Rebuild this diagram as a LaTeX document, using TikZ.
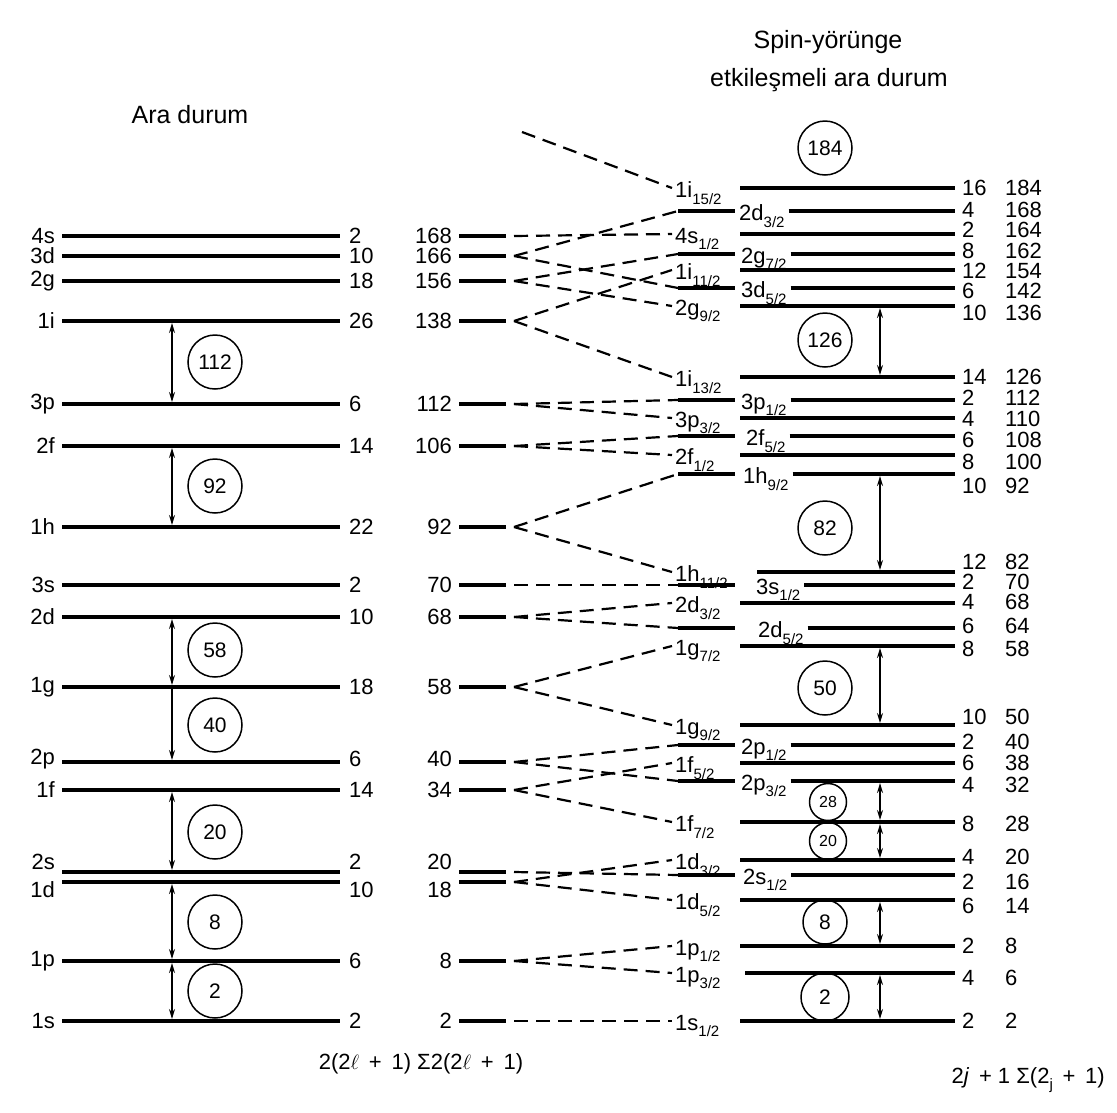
\documentclass[tikz,border=0pt]{standalone}
\usepackage{fontspec}
\setmainfont{Liberation Sans}
\usetikzlibrary{arrows.meta}
\newcommand\lsub[1]{\raisebox{-0.3em}{\fontsize{15}{15}\selectfont #1}}
% A-type level: key, y, label, n1, n2, number-y, line start x
\newcommand\lvA[7]{%
  \node[lab, anchor=west] (#1) at (674,#2+5) {#3};
  \coordinate (#1w) at (672,#2);
  \coordinate (#1s) at (#7,#2);
  \coordinate (#1e) at (955,#2);
  \draw[lvl] (#1s) -- (#1e);
  \node[num, anchor=west] (#1n) at (962,#6) {#4};
  \node[num, anchor=west] (#1c) at (1005,#6) {#5};
}
% B-type level (split line): key, y, label, n1, n2, number-y, label x
\newcommand\lvB[7]{%
  \coordinate (#1w) at (678,#2);
  \coordinate (#1s) at (#1w);
  \coordinate (#1m) at (735,#2);
  \draw[lvl] (#1w) -- (#1m);
  \node[lab, anchor=west] (#1) at (#7,#2+5) {#3};
  \coordinate (#1r) at (#1.east |- #1m);
  \coordinate (#1e) at (955,#2);
  \draw[lvl] ([xshift=3pt]#1r) -- (#1e);
  \node[num, anchor=west] (#1n) at (962,#6) {#4};
  \node[num, anchor=west] (#1c) at (1005,#6) {#5};
}
\begin{document}
\begin{tikzpicture}[x=1pt,y=-1pt,
  lvl/.style={line width=3.2pt},
  dsh/.style={line width=2.2pt, dash pattern=on 14pt off 8pt},
  lab/.style={font=\fontsize{22}{24}\selectfont, inner sep=1pt},
  num/.style={font=\fontsize{22}{24}\selectfont, inner sep=0pt},
  ttl/.style={font=\fontsize{25}{28}\selectfont, inner sep=1pt},
  mag/.style={circle, draw, line width=1.5pt, minimum size=54pt, inner sep=0pt, font=\fontsize{21}{23}\selectfont},
  smag/.style={mag, minimum size=37pt, font=\fontsize{16}{17}\selectfont},
  darr/.style={line width=1.4pt, shorten <=2pt, shorten >=2pt, {Stealth[length=10pt,width=6pt]}-{Stealth[length=10pt,width=6pt]}},
  sarr/.style={line width=1.4pt, shorten <=2pt, shorten >=2pt, -{Stealth[length=10pt,width=6pt]}},
]
\fill[white] (0,0) rectangle (1117,1112);
\useasboundingbox (0,0) rectangle (1117,1112);

% titles
\node[ttl] (t1) at (828,42) {Spin-yörünge};
\node[ttl] (t2) at (829,80) {etkileşmeli ara durum};
\node[ttl] (t3) at (190,115) {Ara durum};

% left column
\foreach \nm/\y/\ly/\n [count=\i] in {4s/236/236/2, 3d/256/256/10, 2g/281/281/18, 1i/321/321/26,
  3p/404/404/6, 2f/446/446/14, 1h/527/527/22, 3s/585/585/2, 2d/617/617/10, 1g/687/687/18,
  2p/762/759/6, 1f/790/790/14, 2s/872/862/2, 1d/882/890/10, 1p/961/961/6, 1s/1021/1021/2} {
  \node[lab, anchor=east] (L\i) at (56,\ly) {\nm};
  \coordinate (L\i-w) at (62,\y);
  \coordinate (L\i-e) at (340,\y);
  \draw[lvl] (L\i-w) -- (L\i-e);
  \node[lab, anchor=west] (LN\i) at (348,\ly) {\n};
}

% middle column
\foreach \n/\y/\ly [count=\i] in {168/236/236, 166/256/256, 156/281/281, 138/321/321,
  112/404/404, 106/446/446, 92/527/527, 70/585/585, 68/617/617, 58/687/687,
  40/762/759, 34/790/790, 20/872/862, 18/882/890, 8/961/961, 2/1021/1021} {
  \node[lab, anchor=east] (M\i) at (453,\ly) {\n};
  \coordinate (M\i-a) at (459,\y);
  \coordinate (M\i-b) at (506,\y);
  \coordinate (M\i-v) at (514,\y);
  \draw[lvl] (M\i-a) -- (M\i-b);
}

% right column
\lvA{R1}{188}{1i\lsub{15/2}}{16}{184}{188}{740}
\lvB{R2}{211}{2d\lsub{3/2}}{4}{168}{210}{738}
\lvA{R3}{234}{4s\lsub{1/2}}{2}{164}{230}{740}
\lvB{R4}{254}{2g\lsub{7/2}}{8}{162}{251}{740}
\lvA{R5}{270}{1i\lsub{11/2}}{12}{154}{271}{740}
\lvB{R6}{288}{3d\lsub{5/2}}{6}{142}{291}{740}
\lvA{R7}{306}{2g\lsub{9/2}}{10}{136}{313}{740}
\lvA{R8}{377}{1i\lsub{13/2}}{14}{126}{377}{740}
\lvB{R9}{400}{3p\lsub{1/2}}{2}{112}{398}{740}
\lvA{R10}{418}{3p\lsub{3/2}}{4}{110}{419}{740}
\lvB{R11}{436}{2f\lsub{5/2}}{6}{108}{440}{745}
\lvA{R12}{455}{2f\lsub{1/2}}{8}{100}{462}{740}
\lvB{R13}{474}{1h\lsub{9/2}}{10}{92}{486}{742}
\lvA{R14}{572}{1h\lsub{11/2}}{12}{82}{562}{757}
\lvB{R15}{585}{3s\lsub{1/2}}{2}{70}{582}{755}
\lvA{R16}{603}{2d\lsub{3/2}}{4}{68}{602}{740}
\lvB{R17}{628}{2d\lsub{5/2}}{6}{64}{626}{757}
\lvA{R18}{646}{1g\lsub{7/2}}{8}{58}{649}{740}
\lvA{R19}{725}{1g\lsub{9/2}}{10}{50}{717}{740}
\lvB{R20}{745}{2p\lsub{1/2}}{2}{40}{742}{740}
\lvA{R21}{763}{1f\lsub{5/2}}{6}{38}{763}{740}
\lvB{R22}{781}{2p\lsub{3/2}}{4}{32}{785}{740}
\lvA{R23}{822}{1f\lsub{7/2}}{8}{28}{824}{740}
\lvA{R24}{860}{1d\lsub{3/2}}{4}{20}{857}{740}
\lvB{R25}{875}{2s\lsub{1/2}}{2}{16}{882}{742}
\lvA{R26}{900}{1d\lsub{5/2}}{6}{14}{906}{740}
\lvA{R27}{946}{1p\lsub{1/2}}{2}{8}{946}{740}
\lvA{R28}{973}{1p\lsub{3/2}}{4}{6}{978}{745}
\lvA{R29}{1021}{1s\lsub{1/2}}{2}{2}{1021}{740}

% dashed connectors
\coordinate (top) at (522,132);
\draw[dsh] (top) -- (R1w);
\foreach \a/\b in {M1/R3, M2/R2, M2/R6, M3/R4, M3/R7, M4/R5, M4/R8,
  M5/R9, M5/R10, M6/R11, M6/R12, M7/R13, M7/R14, M8/R15, M9/R16, M9/R17,
  M10/R18, M10/R19, M11/R20, M11/R22, M12/R21, M12/R23, M13/R25,
  M14/R24, M14/R26, M15/R27, M15/R28, M16/R29}
  \draw[dsh] (\a-v) -- (\b w);

% left arrows and circles
\draw[darr] ([xshift=110pt]L4-w) -- ([xshift=110pt]L5-w);
\draw[darr] ([xshift=110pt]L6-w) -- ([xshift=110pt]L7-w);
\draw[darr] ([xshift=110pt]L9-w) -- ([xshift=110pt]L10-w);
\draw[sarr] ([xshift=110pt]L10-w) -- ([xshift=110pt]L11-w);
\draw[darr] ([xshift=110pt]L12-w) -- ([xshift=110pt]L13-w);
\draw[darr] ([xshift=110pt]L14-w) -- ([xshift=110pt]L15-w);
\draw[darr] ([xshift=110pt]L15-w) -- ([xshift=110pt]L16-w);
\node[mag] (c112) at (215,362) {112};
\node[mag] (c92) at (215,486) {92};
\node[mag] (c58) at (215,650) {58};
\node[mag] (c40) at (215,725) {40};
\node[mag] (c20) at (215,832) {20};
\node[mag] (c8) at (215,922) {8};
\node[mag] (c2) at (215,991) {2};

% right arrows and circles
\draw[darr] ([xshift=-75pt]R7e) -- ([xshift=-75pt]R8e);
\draw[darr] ([xshift=-75pt]R13e) -- ([xshift=-75pt]R14e);
\draw[darr] ([xshift=-75pt]R18e) -- ([xshift=-75pt]R19e);
\draw[darr] ([xshift=-75pt]R22e) -- ([xshift=-75pt]R23e);
\draw[darr] ([xshift=-75pt]R23e) -- ([xshift=-75pt]R24e);
\draw[darr] ([xshift=-75pt]R26e) -- ([xshift=-75pt]R27e);
\draw[darr] ([xshift=-75pt]R28e) -- ([xshift=-75pt]R29e);
\node[mag] (r184) at (825,148) {184};
\node[mag] (r126) at (825,340) {126};
\node[mag] (r82) at (825,528) {82};
\node[mag] (r50) at (825,688) {50};
\node[smag] (r28) at (828,802) {28};
\node[smag] (r20) at (828,841) {20};
\node[mag, minimum size=44pt] (r8) at (825,922) {8};
\node[mag, minimum size=48pt] (r2) at (825,997) {2};

% bottom formulas
\node[lab] (f1) at (421,1064) {2(2$\ell$\, + \,1) Σ2(2$\ell$\, + \,1)};
\node[lab, anchor=east] (f2) at (1106,1080) {2\textit{j}\, + 1 Σ(2\lsub{j}\, + \,1)};
\end{tikzpicture}
\end{document}
